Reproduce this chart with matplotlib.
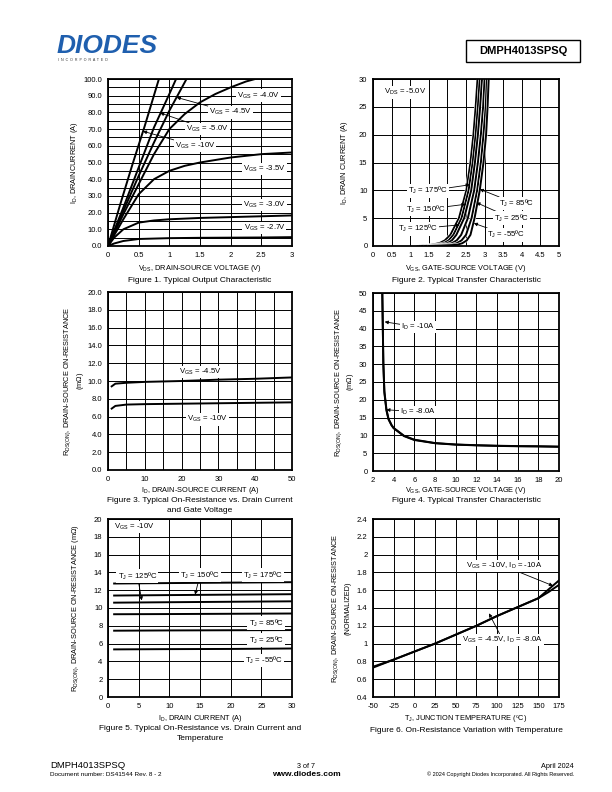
import matplotlib
matplotlib.use("Agg")
import matplotlib.pyplot as plt
from matplotlib.patches import Rectangle
import numpy as np

plt.rcParams['font.family'] = ['Liberation Sans', 'DejaVu Sans']
plt.rcParams['mathtext.fontset'] = 'custom'
plt.rcParams['mathtext.rm'] = 'Liberation Sans'
plt.rcParams['mathtext.it'] = 'Liberation Sans:italic'

# ---------------- Figure 1 data ----------------
f1_vds_10 = [0, 0.2, 0.4, 0.6, 0.83]
f1_id_10 = [0, 25, 49, 72, 100]
f1_vds_50 = [0, 0.25, 0.5, 0.75, 1.0, 1.11]
f1_id_50 = [0, 23, 47, 71, 91, 100]
f1_vds_45 = [0, 0.25, 0.5, 0.75, 1.0, 1.28]
f1_id_45 = [0, 21, 42, 62, 81, 100]
f1_vds_40 = [0, 0.25, 0.5, 0.75, 1.0, 1.25, 1.5, 1.75, 2.0, 2.25, 2.4, 2.7, 3.0]
f1_id_40 = [0, 19, 37, 55, 70, 79, 86, 91, 95, 98.5, 100, 100.5, 101]
f1_vds_35 = [0, 0.25, 0.5, 0.75, 1.0, 1.25, 1.5, 2.0, 2.5, 3.0]
f1_id_35 = [0, 16, 31, 40, 45, 48, 50, 53, 55, 56]
f1_vds_30 = [0, 0.1, 0.25, 0.5, 0.75, 1.0, 1.5, 2.0, 2.5, 3.0]
f1_id_30 = [0, 5, 10, 14, 15.3, 16, 16.8, 17.3, 17.8, 18.3]
f1_vds_27 = [0, 0.1, 0.25, 0.5, 1.0, 1.5, 2.0, 2.5, 3.0]
f1_id_27 = [0, 1.5, 3, 4.2, 4.7, 4.9, 5.0, 5.1, 5.3]

# ---------------- Figure 2 data ----------------
f2_id = [0, 0.2, 0.5, 1, 2, 5, 10, 15, 20, 25, 30, 32]
f2_vgs_175 = [1.20, 1.55, 1.78, 1.93, 2.08, 2.31, 2.51, 2.62, 2.70, 2.76, 2.81, 2.83]
f2_vgs_150 = [1.22, 1.70, 1.90, 2.03, 2.16, 2.38, 2.57, 2.68, 2.76, 2.82, 2.87, 2.89]
f2_vgs_125 = [1.25, 1.82, 2.00, 2.12, 2.24, 2.45, 2.64, 2.74, 2.82, 2.88, 2.93, 2.95]
f2_vgs_85 = [1.30, 1.95, 2.12, 2.25, 2.37, 2.55, 2.72, 2.82, 2.90, 2.96, 3.00, 3.02]
f2_vgs_25 = [1.40, 2.10, 2.25, 2.38, 2.50, 2.65, 2.80, 2.90, 2.97, 3.03, 3.06, 3.08]
f2_vgs_m55 = [1.50, 2.25, 2.40, 2.52, 2.62, 2.73, 2.87, 2.97, 3.04, 3.08, 3.11, 3.13]

# ---------------- Figure 3 data ----------------
f3_id = [1, 2, 5, 10, 20, 30, 40, 50]
f3_r_45 = [9.4, 9.7, 9.8, 9.9, 10.0, 10.15, 10.25, 10.4]
f3_r_10 = [6.9, 7.2, 7.35, 7.4, 7.45, 7.5, 7.55, 7.6]

# ---------------- Figure 4 data ----------------
f4_vgs = [2.9, 2.95, 3.0, 3.1, 3.3, 3.5, 3.8, 4, 5, 6, 8, 10, 12, 14, 16, 18, 20]
f4_r_10a = [50, 40, 30, 22, 17, 14.5, 12.8, 12.0, 9.8, 8.7, 7.8, 7.4, 7.2, 7.05, 6.95, 6.9, 6.8]
f4_r_8a = [50, 40.5, 30.5, 22.5, 17.3, 14.7, 12.9, 12.1, 9.9, 8.8, 7.85, 7.45, 7.25, 7.1, 7.0, 6.95, 6.85]

# ---------------- Figure 5 data ----------------
f5_id = [1, 10, 20, 30]
f5_r_175 = [12.75, 12.8, 12.85, 12.9]
f5_r_150 = [11.4, 11.45, 11.5, 11.55]
f5_r_125 = [10.6, 10.65, 10.7, 10.75]
f5_r_85 = [9.3, 9.32, 9.35, 9.38]
f5_r_25 = [7.45, 7.48, 7.5, 7.52]
f5_r_m55 = [5.35, 5.38, 5.4, 5.45]

# ---------------- Figure 6 data ----------------
f6_tj = [-50, -25, 0, 25, 50, 75, 100, 125, 150, 162.5, 175]
f6_r_10v = [0.73, 0.82, 0.91, 1.0, 1.1, 1.2, 1.31, 1.41, 1.51, 1.61, 1.71]
f6_r_45v = [0.74, 0.82, 0.91, 1.0, 1.1, 1.2, 1.31, 1.41, 1.51, 1.58, 1.66]

W, H = 612, 792
fig = plt.figure(figsize=(6.12, 7.92), dpi=100)

def rect(l, t, r, b):
    return [l / W, 1 - b / H, (r - l) / W, (b - t) / H]

def ftext(x, y, s, **kw):
    fig.text(x / W, 1 - y / H, s, **kw)

TS = 5.5
AS = 5.6
LS = 5.3
CS = 6.0

def style(ax, xlim, ylim, xgrid, ygrid, xticks, yticks, xfmt=None, yfmt=None):
    ax.set_xlim(*xlim)
    ax.set_ylim(*ylim)
    ax.set_xticks(xgrid, minor=True)
    ax.set_yticks(ygrid, minor=True)
    ax.set_xticks(xticks)
    ax.set_yticks(yticks)
    if xfmt:
        ax.set_xticklabels([xfmt(v) for v in xticks])
    if yfmt:
        ax.set_yticklabels([yfmt(v) for v in yticks])
    ax.grid(True, which='both', color='black', lw=0.7)
    ax.set_axisbelow(True)
    ax.tick_params(which='both', length=0, labelsize=TS, pad=4)
    for s in ax.spines.values():
        s.set_linewidth(1.3)

def gen(v):
    return ('%g' % v)

box = dict(boxstyle='square,pad=0.15', fc='white', ec='none')
arr = dict(arrowstyle='-|>', lw=0.6, color='black', mutation_scale=5, shrinkA=0, shrinkB=0)

def vgs(v):
    return 'V$_{\\rm GS}$ = ' + v

def tj(t):
    return 'T$_{\\rm J}$ = ' + t

# ---------------- Figure 1 ----------------
ax1 = fig.add_axes(rect(108, 79, 292, 246))
style(ax1, (0, 3), (0, 100), np.arange(0, 3.01, 0.5), np.arange(0, 100.1, 5),
      [0, 0.5, 1, 1.5, 2, 2.5, 3], np.arange(0, 100.1, 10), xfmt=gen, yfmt=lambda v: '%.1f' % v)
for x, y in [(f1_vds_10, f1_id_10), (f1_vds_50, f1_id_50), (f1_vds_45, f1_id_45),
             (f1_vds_40, f1_id_40), (f1_vds_35, f1_id_35), (f1_vds_30, f1_id_30),
             (f1_vds_27, f1_id_27)]:
    ax1.plot(x, y, color='black', lw=1.4, clip_on=True)
ax1.text(2.45, 90, vgs('-4.0V'), fontsize=AS, ha='center', va='center', bbox=box)
ax1.annotate(vgs('-4.5V'), xy=(1.12, 89), xytext=(2.0, 80), fontsize=AS, ha='center', va='center', bbox=box, arrowprops=arr)
ax1.annotate(vgs('-5.0V'), xy=(0.85, 79.7), xytext=(1.62, 70), fontsize=AS, ha='center', va='center', bbox=box, arrowprops=arr)
ax1.annotate(vgs('-10V'), xy=(0.57, 68.7), xytext=(1.42, 60), fontsize=AS, ha='center', va='center', bbox=box, arrowprops=arr)
ax1.text(2.55, 46, vgs('-3.5V'), fontsize=AS, ha='center', va='center', bbox=box)
ax1.text(2.55, 24.5, vgs('-3.0V'), fontsize=AS, ha='center', va='center', bbox=box)
ax1.text(2.55, 10.8, vgs('-2.7V'), fontsize=AS, ha='center', va='center', bbox=box)
ftext(200, 268, 'V$_{\\rm DS}$, DRAIN-SOURCE VOLTAGE (V)', fontsize=LS, ha='center', va='center')
ftext(74, 163, 'I$_{\\rm D}$, DRAINCURRENT (A)', fontsize=LS, ha='center', va='center', rotation=90)
ftext(200, 280, 'Figure 1. Typical Output Characteristic', fontsize=CS, ha='center', va='center')

# ---------------- Figure 2 ----------------
ax2 = fig.add_axes(rect(373, 79, 559, 246))
style(ax2, (0, 5), (0, 30), np.arange(0, 5.01, 0.5), np.arange(0, 30.1, 5),
      np.arange(0, 5.01, 0.5), np.arange(0, 30.1, 5), xfmt=gen, yfmt=gen)
for v in [f2_vgs_175, f2_vgs_150, f2_vgs_125, f2_vgs_85, f2_vgs_25, f2_vgs_m55]:
    ax2.plot(v, f2_id, color='white', lw=2.2)
    ax2.plot(v, f2_id, color='black', lw=1.4)
ax2.text(0.3, 27.6, 'V$_{\\rm DS}$ = -5.0V', fontsize=AS, ha='left', va='center', bbox=box)
ax2.annotate(tj('175ºC'), xy=(2.6, 11), xytext=(1.48, 9.9), fontsize=AS, ha='center', va='center', bbox=box, arrowprops=arr)
ax2.annotate(tj('150ºC'), xy=(2.49, 7.5), xytext=(1.43, 6.6), fontsize=AS, ha='center', va='center', bbox=box, arrowprops=arr)
ax2.annotate(tj('125ºC'), xy=(2.33, 3.8), xytext=(1.21, 3.1), fontsize=AS, ha='center', va='center', bbox=box, arrowprops=arr)
ax2.annotate(tj('85ºC'), xy=(2.87, 10.2), xytext=(3.85, 7.6), fontsize=AS, ha='center', va='center', bbox=box, arrowprops=arr)
ax2.annotate(tj('25ºC'), xy=(2.78, 7.8), xytext=(3.72, 5.0), fontsize=AS, ha='center', va='center', bbox=box, arrowprops=arr)
ax2.annotate(tj('-55ºC'), xy=(2.71, 4.1), xytext=(3.58, 2.0), fontsize=AS, ha='center', va='center', bbox=box, arrowprops=arr)
ftext(466, 268, 'V$_{\\rm GS}$, GATE-SOURCE VOLTAGE (V)', fontsize=LS, ha='center', va='center')
ftext(345, 163, 'I$_{\\rm D}$, DRAIN CURRENT (A)', fontsize=LS, ha='center', va='center', rotation=90)
ftext(466, 280, 'Figure 2. Typical Transfer Characteristic', fontsize=CS, ha='center', va='center')

# ---------------- Figure 3 ----------------
ax3 = fig.add_axes(rect(108, 292, 292, 470))
style(ax3, (0, 50), (0, 20), np.arange(0, 50.1, 5), np.arange(0, 20.1, 2),
      np.arange(0, 50.1, 10), np.arange(0, 20.1, 2), xfmt=lambda v: '%d' % v, yfmt=lambda v: '%.1f' % v)
ax3.plot(f3_id, f3_r_45, color='black', lw=1.4)
ax3.plot(f3_id, f3_r_10, color='black', lw=1.4)
ax3.text(25, 11.0, vgs('-4.5V'), fontsize=AS, ha='center', va='center', bbox=box)
ax3.text(27, 5.7, vgs('-10V'), fontsize=AS, ha='center', va='center', bbox=box)
ftext(200, 491, 'I$_{\\rm D}$, DRAIN-SOURCE CURRENT (A)', fontsize=LS, ha='center', va='center')
ftext(68, 381, 'R$_{\\rm DS(ON)}$, DRAIN-SOURCE ON-RESISTANCE', fontsize=LS, ha='center', va='center', rotation=90)
ftext(80, 381, '(m$\\Omega$)', fontsize=LS, ha='center', va='center', rotation=90)
ftext(200, 501, 'Figure 3. Typical On-Resistance vs. Drain Current', fontsize=CS, ha='center', va='center')
ftext(200, 510, 'and Gate Voltage', fontsize=CS, ha='center', va='center')

# ---------------- Figure 4 ----------------
ax4 = fig.add_axes(rect(373, 293, 559, 471))
style(ax4, (2, 20), (0, 50), np.arange(2, 20.1, 2), np.arange(0, 50.1, 5),
      np.arange(2, 20.1, 2), np.arange(0, 50.1, 5), xfmt=lambda v: '%d' % v, yfmt=lambda v: '%d' % v)
ax4.plot(f4_vgs, f4_r_10a, color='black', lw=1.4)
ax4.plot(f4_vgs, f4_r_8a, color='black', lw=1.4)
ax4.annotate('I$_{\\rm D}$ = -10A', xy=(3.13, 41.9), xytext=(6.36, 40.4), fontsize=AS, ha='center', va='center', bbox=box, arrowprops=arr)
ax4.annotate('I$_{\\rm D}$ = -8.0A', xy=(3.29, 17.2), xytext=(6.36, 16.6), fontsize=AS, ha='center', va='center', bbox=box, arrowprops=arr)
ftext(466, 491, 'V$_{\\rm GS}$, GATE-SOURCE VOLTAGE (V)', fontsize=LS, ha='center', va='center')
ftext(339, 382, 'R$_{\\rm DS(ON)}$, DRAIN-SOURCE ON-RESISTANCE', fontsize=LS, ha='center', va='center', rotation=90)
ftext(351, 382, '(m$\\Omega$)', fontsize=LS, ha='center', va='center', rotation=90)
ftext(466, 501, 'Figure 4. Typical Transfer Characteristic', fontsize=CS, ha='center', va='center')

# ---------------- Figure 5 ----------------
ax5 = fig.add_axes(rect(108, 519, 292, 697))
style(ax5, (0, 30), (0, 20), np.arange(0, 30.1, 5), np.arange(0, 20.1, 2),
      np.arange(0, 30.1, 5), np.arange(0, 20.1, 2), xfmt=lambda v: '%d' % v, yfmt=lambda v: '%d' % v)
for r in [f5_r_175, f5_r_150, f5_r_125, f5_r_85, f5_r_25, f5_r_m55]:
    ax5.plot(f5_id, r, color='black', lw=1.4)
ax5.text(1.0, 19.1, vgs('-10V'), fontsize=AS, ha='left', va='center', bbox=box)
ax5.annotate(tj('125ºC'), xy=(5.5, 10.85), xytext=(4.8, 13.6), fontsize=AS, ha='center', va='center', bbox=box, arrowprops=arr)
ax5.annotate(tj('150ºC'), xy=(14.2, 11.5), xytext=(15.0, 13.7), fontsize=AS, ha='center', va='center', bbox=box, arrowprops=arr)
ax5.text(25.3, 13.7, tj('175ºC'), fontsize=AS, ha='center', va='center', bbox=box)
ax5.text(25.8, 8.3, tj('85ºC'), fontsize=AS, ha='center', va='center', bbox=box)
ax5.text(25.8, 6.4, tj('25ºC'), fontsize=AS, ha='center', va='center', bbox=box)
ax5.text(25.4, 4.1, tj('-55ºC'), fontsize=AS, ha='center', va='center', bbox=box)
ftext(200, 718, 'I$_{\\rm D}$, DRAIN CURRENT (A)', fontsize=LS, ha='center', va='center')
ftext(76, 608, 'R$_{\\rm DS(ON)}$, DRAIN-SOURCE ON-RESISTANCE (m$\\Omega$)', fontsize=LS, ha='center', va='center', rotation=90)
ftext(200, 729, 'Figure 5. Typical On-Resistance vs. Drain Current and', fontsize=CS, ha='center', va='center')
ftext(200, 739, 'Temperature', fontsize=CS, ha='center', va='center')

# ---------------- Figure 6 ----------------
ax6 = fig.add_axes(rect(373, 519, 559, 697))
style(ax6, (-50, 175), (0.4, 2.4), np.arange(-50, 175.1, 25), np.arange(0.4, 2.41, 0.2),
      np.arange(-50, 175.1, 25), np.arange(0.4, 2.41, 0.2), xfmt=lambda v: '%d' % v, yfmt=lambda v: '%g' % round(v, 1))
ax6.plot(f6_tj, f6_r_10v, color='black', lw=1.4)
ax6.plot(f6_tj, f6_r_45v, color='black', lw=1.4)
ax6.annotate('V$_{\\rm GS}$ = -10V, I$_{\\rm D}$ = -10A', xy=(167.7, 1.65), xytext=(109, 1.87), fontsize=AS, ha='center', va='center', bbox=box, arrowprops=arr)
ax6.annotate('V$_{\\rm GS}$ = -4.5V, I$_{\\rm D}$ = -8.0A', xy=(90.3, 1.34), xytext=(107, 1.04), fontsize=AS, ha='center', va='center', bbox=box, arrowprops=arr)
ftext(466, 718, 'T$_{\\rm J}$, JUNCTION TEMPERATURE (ºC)', fontsize=LS, ha='center', va='center')
ftext(336, 608, 'R$_{\\rm DS(ON)}$, DRAIN-SOURCE ON-RESISTANCE', fontsize=LS, ha='center', va='center', rotation=90)
ftext(348, 608, '(NORMALIZED)', fontsize=LS, ha='center', va='center', rotation=90)
ftext(466, 730, 'Figure 6. On-Resistance Variation with Temperature', fontsize=CS, ha='center', va='center')

# ---------------- Header ----------------
ftext(57, 46, 'DIODES', fontsize=19, fontweight='bold', color='#1f5fae', ha='left', va='center', style='italic')
ftext(58, 60, 'I  N  C  O  R  P  O  R  A  T  E  D', fontsize=2.6, color='#333333', ha='left', va='center')
fig.patches.append(Rectangle((466 / W, 1 - 62 / H), 114 / W, 22 / H, transform=fig.transFigure,
                             fill=False, ec='black', lw=1.0))
ftext(523, 51, 'DMPH4013SPSQ', fontsize=8, fontweight='bold', ha='center', va='center')

# ---------------- Footer ----------------
ftext(50, 766, 'DMPH4013SPSQ', fontsize=6.8, ha='left', va='center')
ftext(50, 775, 'Document number: DS41544 Rev. 8 - 2', fontsize=4.6, ha='left', va='center')
ftext(306, 766, '3 of 7', fontsize=5.2, ha='center', va='center')
ftext(306, 775, 'www.diodes.com', fontsize=6, fontweight='bold', ha='center', va='center')
ftext(574, 766, 'April 2024', fontsize=5.2, ha='right', va='center')
ftext(574, 774, '© 2024 Copyright Diodes Incorporated. All Rights Reserved.', fontsize=4.0, ha='right', va='center')

fig.savefig('out.png', dpi=100)
